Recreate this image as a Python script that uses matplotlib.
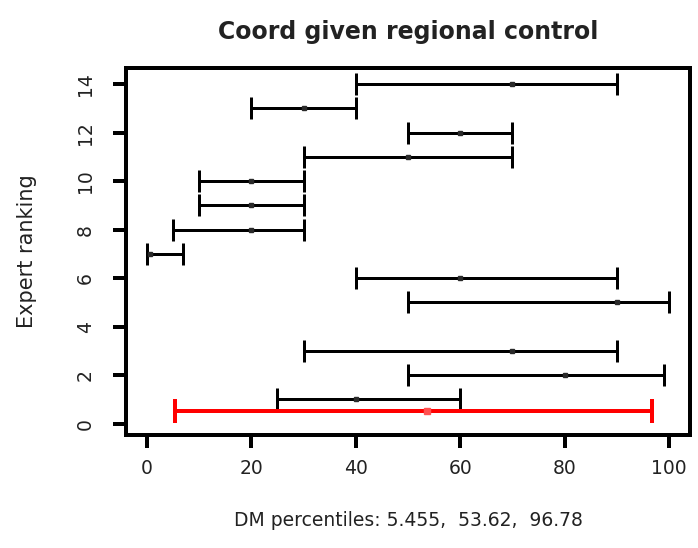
import matplotlib
matplotlib.use("Agg")
import matplotlib.pyplot as plt

plt.rcParams['font.family'] = ['DejaVu Sans']

# Data
ranking = [14, 13, 12, 11, 10, 9, 8, 7, 6, 5, 3, 2, 1]
low = [40, 20, 50, 30, 10, 10, 5, 0, 40, 50, 30, 50, 25]
median = [70, 30, 60, 50, 20, 20, 20, 0.5, 60, 90, 70, 80, 40]
high = [90, 40, 70, 70, 30, 30, 30, 7, 90, 100, 90, 99, 60]

dm_rank = 0.5
dm_low, dm_med, dm_high = 5.455, 53.62, 96.78

x_ticks = [0, 20, 40, 60, 80, 100]
y_ticks = [0, 2, 4, 6, 8, 10, 12, 14]

title = "Coord given regional control"
ylabel = "Expert ranking"
xlabel = f"DM percentiles: {dm_low},  {dm_med},  {dm_high}"

fig = plt.figure(figsize=(6.98, 5.48), dpi=100)
ax = fig.add_axes([126/698, 1-435/548, 564/698, 367/548])

px = 72/100  # points per pixel

for r, lo, md, hi in zip(ranking, low, median, high):
    ax.errorbar([md], [r], xerr=[[md-lo], [hi-md]], fmt='none', ecolor='black',
                elinewidth=3*px, capsize=8, capthick=3*px)
    ax.plot([md], [r], marker='s', markersize=5*px, color='#2a2a2a', linestyle='none')

ax.errorbar([dm_med], [dm_rank], xerr=[[dm_med-dm_low], [dm_high-dm_med]], fmt='none',
            ecolor='#ff0000', elinewidth=4*px, capsize=8.5, capthick=4*px)
ax.plot([dm_med], [dm_rank], marker='s', markersize=6*px, color='#ff5050', linestyle='none')

ax.set_xlim(-4, 104)
ax.set_ylim(-0.47, 14.67)
ax.set_xticks(x_ticks)
ax.set_yticks(y_ticks)
ax.set_xticklabels([str(v) for v in x_ticks], fontsize=13.5, color='#222222')
ax.set_yticklabels([str(v) for v in y_ticks], fontsize=13.5, rotation=90, va='center',
                   color='#222222')

for s in ax.spines.values():
    s.set_linewidth(4*px)
ax.tick_params(axis='both', length=13*px, width=4*px)
ax.tick_params(axis='x', pad=8)
ax.tick_params(axis='y', pad=13)

ax.set_title(title, fontsize=17, fontweight='bold', pad=21, color='#222222')
ax.set_ylabel(ylabel, fontsize=15, labelpad=28, color='#222222')
ax.set_xlabel(xlabel, fontsize=13.5, labelpad=24, color='#222222')

fig.savefig("out.png", dpi=100)
